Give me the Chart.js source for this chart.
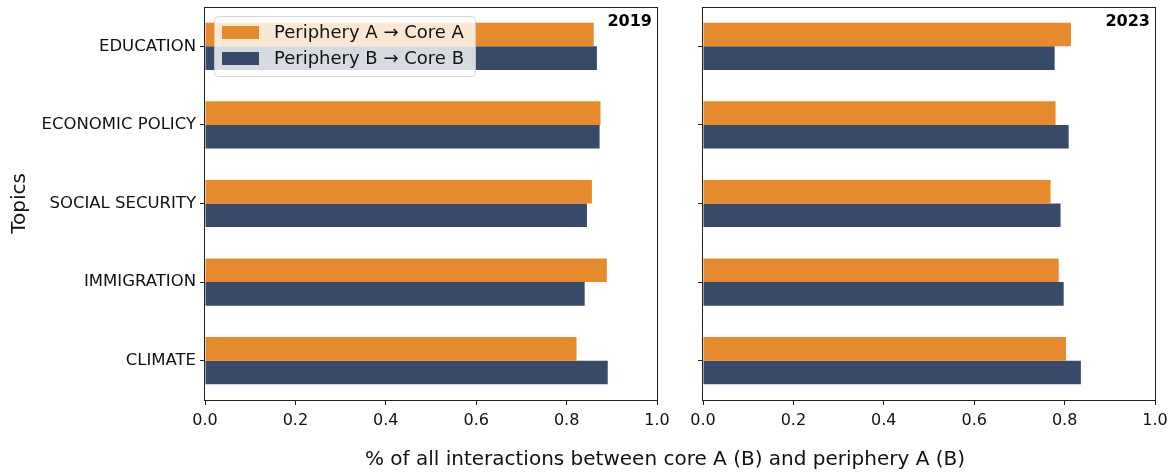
<!DOCTYPE html>
<html>
<head>
<meta charset="utf-8">
<script src="https://cdn.jsdelivr.net/npm/chart.js@4/dist/chart.umd.min.js"></script>
<style>
	html, body { margin: 0; padding: 0; background: #fff; }
	#wrap { position: relative; width: 1176px; height: 476px; }
	#wrap canvas { position: absolute; left: 0; top: 0; }
</style>
</head>
<body>
<div id="wrap">
	<canvas id="chart-2019" width="1176" height="476"></canvas>
	<canvas id="chart-2023" width="1176" height="476"></canvas>
</div>
<script>
const TOPICS = ["EDUCATION", "ECONOMIC POLICY", "SOCIAL SECURITY", "IMMIGRATION", "CLIMATE"];
const SERIES_NAMES = ["Periphery A \u2192 Core A", "Periphery B \u2192 Core B"];
const X_TICKS = [0.0, 0.2, 0.4, 0.6, 0.8, 1.0];
const A_2019 = [0.860, 0.875, 0.856, 0.889, 0.822];
const B_2019 = [0.867, 0.873, 0.845, 0.840, 0.891];
const A_2023 = [0.814, 0.780, 0.769, 0.787, 0.803];
const B_2023 = [0.778, 0.809, 0.791, 0.798, 0.836];

const ORANGE = "#e68b2d";
const NAVY = "#374a6a";
const INK = "#111";
const FONT = "'DejaVu Sans', sans-serif";

Chart.defaults.font.family = FONT;
Chart.defaults.color = INK;

// spines, year tag, legend box and shared x label
const framePlugin = {
	id: "frame",
	afterDatasetsDraw(chart, args, opts) {
		const ctx = chart.ctx;
		const a = chart.chartArea;
		ctx.save();
		ctx.strokeStyle = "#222";
		ctx.lineWidth = 1;
		ctx.strokeRect(Math.round(a.left) - 0.5, Math.round(a.top) + 0.5,
			Math.round(a.right - a.left) + 1, Math.round(a.bottom - a.top));

		ctx.fillStyle = "#000";
		ctx.font = "bold 16px " + FONT;
		ctx.textAlign = "right";
		ctx.textBaseline = "middle";
		ctx.fillText(opts.year, a.right - 5, a.top + 15);

		if (opts.legend) {
			const x = a.left + 9, y = a.top + 9, w = 261, h = 60;
			ctx.beginPath();
			ctx.roundRect(x + 0.5, y + 0.5, w, h, 4);
			ctx.fillStyle = "rgba(255,255,255,0.8)";
			ctx.fill();
			ctx.strokeStyle = "rgba(204,204,204,0.8)";
			ctx.stroke();
			const colors = [ORANGE, NAVY];
			ctx.font = "18px " + FONT;
			ctx.textAlign = "left";
			SERIES_NAMES.forEach((name, i) => {
				const cy = y + 16 + i * 26;
				ctx.fillStyle = colors[i];
				ctx.fillRect(x + 8, cy - 6, 37, 13);
				ctx.fillStyle = INK;
				ctx.fillText(name, x + 60, cy + 1);
			});
		}

		if (opts.xlabel) {
			ctx.font = "20px " + FONT;
			ctx.fillStyle = INK;
			ctx.textAlign = "center";
			ctx.textBaseline = "middle";
			ctx.fillText(opts.xlabel, 665, 460);
		}
		ctx.restore();
	},
};

const makeChart = (canvasId, year, aValues, bValues, first) => {
	return new Chart(document.getElementById(canvasId), {
		type: "bar",
		data: {
			labels: TOPICS,
			datasets: [
				{ label: SERIES_NAMES[0], data: aValues, backgroundColor: ORANGE },
				{ label: SERIES_NAMES[1], data: bValues, backgroundColor: NAVY },
			],
		},
		plugins: [framePlugin],
		options: {
			indexAxis: "y",
			responsive: false,
			animation: false,
			devicePixelRatio: 1,
			categoryPercentage: 0.6,
			barPercentage: 1.0,
			layout: {
				padding: { top: 7, right: first ? 519 : 21, bottom: 0, left: 0 },
			},
			plugins: {
				legend: { display: false },
				tooltip: { enabled: false },
				frame: {
					year: year,
					legend: first,
					xlabel: first ? "% of all interactions between core A (B) and periphery A (B)" : null,
				},
			},
			scales: {
				x: {
					min: 0,
					max: 1,
					afterBuildTicks: (scale) => {
						scale.ticks = X_TICKS.map((v) => ({ value: v }));
					},
					afterFit: (scale) => {
						scale.height = 76;
						scale.paddingLeft = 0;
						scale.paddingRight = 0;
					},
					ticks: {
						font: { size: 16 },
						color: INK,
						padding: 6,
						maxRotation: 0,
						callback: (v) => Number(v).toFixed(1),
					},
					grid: { drawOnChartArea: false, drawTicks: true, tickLength: 5, color: "#222" },
					border: { display: false },
				},
				y: {
					afterFit: (scale) => {
						scale.width = first ? 205 : 703;
						scale.paddingTop = 0;
						scale.paddingBottom = 0;
					},
					ticks: {
						display: first,
						font: { size: 16.5 },
						color: INK,
						padding: 4,
					},
					title: {
						display: first,
						text: "Topics",
						font: { size: 20 },
						color: INK,
						padding: { top: 8, bottom: 0 },
					},
					grid: { offset: false, drawOnChartArea: false, drawTicks: true, tickLength: 5, color: "#222" },
					border: { display: false },
				},
			},
		},
	});
};

makeChart("chart-2019", "2019", A_2019, B_2019, true);
makeChart("chart-2023", "2023", A_2023, B_2023, false);
</script>
</body>
</html>
